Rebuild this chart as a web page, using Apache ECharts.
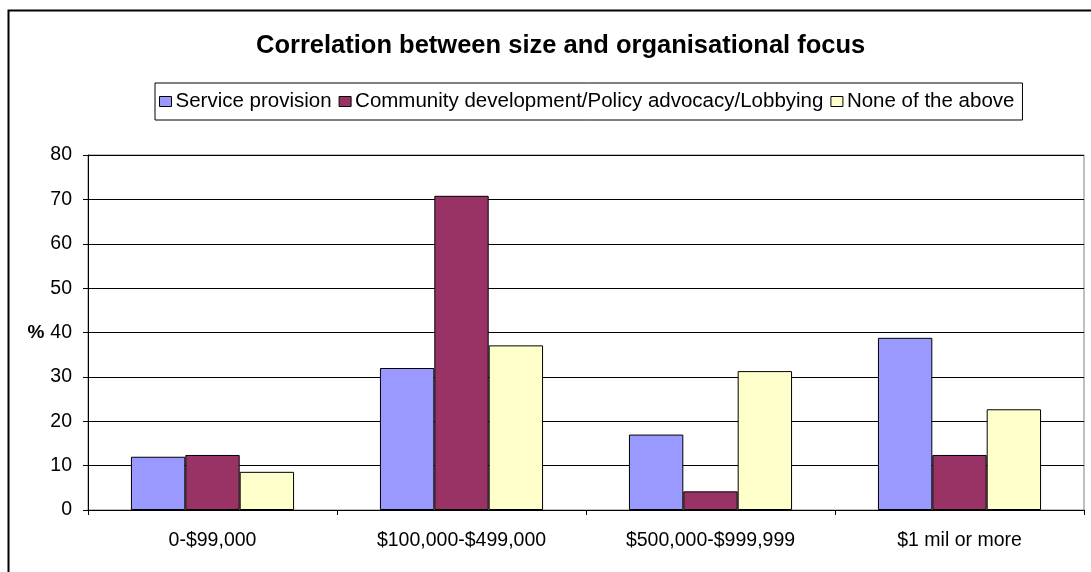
<!DOCTYPE html>
<html>
<head>
<meta charset="utf-8">
<script src="https://cdn.jsdelivr.net/npm/echarts@6/dist/echarts.min.js"></script>
<style>
html,body{margin:0;padding:0;background:#fff;}
#c{width:1091px;height:572px;}
</style>
</head>
<body>
<div id="c"></div>
<script>
const categories = ['0-$99,000', '$100,000-$499,000', '$500,000-$999,999', '$1 mil or more'];
const seriesNames = ['Service provision', 'Community development/Policy advocacy/Lobbying', 'None of the above'];
const serviceProvision = [12.0, 32.0, 17.0, 38.8];
const communityDevelopment = [12.4, 70.8, 4.2, 12.4];
const noneOfTheAbove = [8.6, 37.1, 31.3, 22.7];
const yTicks = [0, 10, 20, 30, 40, 50, 60, 70, 80];

const colors = ['#9999FF', '#993366', '#FFFFCC'];
const font = '"Liberation Sans", Arial, sans-serif';

const chart = echarts.init(document.getElementById('c'));
const values = [serviceProvision, communityDevelopment, noneOfTheAbove];

chart.setOption({
  animation: false,
  backgroundColor: '#fff',
  graphic: [{
    type: 'rect', left: 6, top: 8,
    shape: { width: 1100, height: 600 },
    style: { fill: 'none', stroke: '#000', lineWidth: 2 },
    silent: true, z: -10
  }],
  title: {
    text: 'Correlation between size and organisational focus',
    left: 251, top: 28,
    textStyle: { fontFamily: font, fontSize: 25.5, fontWeight: 'bold', color: '#000' }
  },
  legend: {
    data: seriesNames,
    left: 155, top: 83,
    padding: [8, 8, 8, 4],
    itemWidth: 12, itemHeight: 10, itemGap: 7,
    borderColor: '#000', borderWidth: 1,
    icon: 'rect',
    itemStyle: { borderColor: '#000', borderWidth: 1 },
    textStyle: { fontFamily: font, fontSize: 20.5, color: '#000', padding: [0, 0, 0, -1] }
  },
  grid: {
    left: 88, right: 7, top: 155, bottom: 62,
    show: true, borderColor: '#808080', borderWidth: 1
  },
  xAxis: {
    type: 'category',
    data: categories,
    axisLine: { lineStyle: { color: '#000', width: 1 } },
    axisTick: { show: true, alignWithLabel: false, length: 5, lineStyle: { color: '#000' } },
    axisLabel: { fontFamily: font, fontSize: 19.5, color: '#000', margin: 21 }
  },
  yAxis: {
    type: 'value',
    min: yTicks[0], max: yTicks[yTicks.length - 1], interval: 10,
    name: '%',
    nameLocation: 'middle',
    nameRotate: 0,
    nameGap: 40,
    nameTextStyle: { fontFamily: font, fontSize: 19, fontWeight: 'bold', color: '#000' },
    axisLine: { show: true, lineStyle: { color: '#000', width: 1 } },
    axisTick: { show: true, length: 5, lineStyle: { color: '#000' } },
    axisLabel: { fontFamily: font, fontSize: 19.5, color: '#000', margin: 16 },
    splitLine: { show: true, lineStyle: { color: '#000', width: 1 } }
  },
  series: seriesNames.map((name, i) => ({
    name: name,
    type: 'bar',
    data: values[i],
    barGap: '0%',
    barCategoryGap: '34.5%',
    itemStyle: { color: colors[i], borderColor: '#000', borderWidth: 1 }
  }))
});
</script>
</body>
</html>
